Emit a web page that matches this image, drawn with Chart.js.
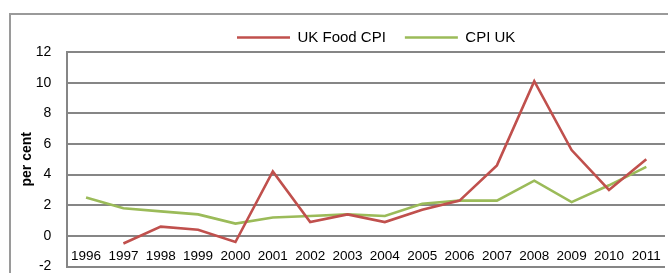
<!DOCTYPE html>
<html>
<head>
<meta charset="utf-8">
<script src="https://cdn.jsdelivr.net/npm/chart.js@4/dist/chart.umd.min.js"></script>
<style>
  html, body { margin: 0; padding: 0; background: #fff; overflow: hidden; }
  #frame { position: absolute; left: 9px; top: 13px; width: 700px; height: 300px; border: 2px solid #9a9a9a; }
  #chart { position: absolute; left: 0; top: 0; }
</style>
</head>
<body>
<div id="frame"></div>
<canvas id="chart" width="668" height="273"></canvas>
<script>
// évek a vízszintes tengelyen
const years = ['1996', '1997', '1998', '1999', '2000', '2001', '2002', '2003',
               '2004', '2005', '2006', '2007', '2008', '2009', '2010', '2011'];
// éves változás, százalék (1996-ra nincs élelmiszer adat)
const ukFoodCpi = [null, -0.5, 0.6, 0.4, -0.4, 4.2, 0.9, 1.4, 0.9, 1.7, 2.3, 4.6, 10.1, 5.6, 3.0, 5.0];
const cpiUk = [2.5, 1.8, 1.6, 1.4, 0.8, 1.2, 1.3, 1.4, 1.3, 2.1, 2.3, 2.3, 3.6, 2.2, 3.3, 4.5];
const yMin = -2, yMax = 12, yStep = 2;

const font = 'Liberation Sans';
const gridColor = '#868686';

// a jelmagyarázat kicsit jobbra ül, mint a rajzterület közepe
const legendNudge = {
    id: 'legendNudge',
    afterLayout(chart) {
        if (chart.legend) {
            chart.legend.left += 20;
            chart.legend.right += 0;
        }
    }
};

new Chart(document.getElementById('chart').getContext('2d'), {
    type: 'line',
    data: {
        labels: years,
        datasets: [
            {
                label: 'UK Food CPI',
                data: ukFoodCpi,
                borderColor: '#c0504d',
                backgroundColor: '#c0504d',
                borderWidth: 2.6,
                pointRadius: 0,
                tension: 0
            },
            {
                label: 'CPI UK',
                data: cpiUk,
                borderColor: '#9bbb59',
                backgroundColor: '#9bbb59',
                borderWidth: 2.6,
                pointRadius: 0,
                tension: 0
            }
        ]
    },
    plugins: [legendNudge],
    options: {
        responsive: false,
        animation: false,
        layout: { padding: { left: 10, right: 3, top: 11, bottom: 2.5 } },
        plugins: {
            tooltip: { enabled: false },
            legend: {
                position: 'top',
                fullSize: false,
                maxHeight: 41,
                labels: {
                    usePointStyle: true,
                    pointStyle: 'line',
                    pointStyleWidth: 53,
                    padding: 19,
                    color: '#000',
                    font: { family: font, size: 15 }
                }
            }
        },
        scales: {
            x: {
                offset: true,
                grid: { display: false, drawTicks: false },
                border: { display: false },
                ticks: {
                    mirror: true,
                    padding: 2,
                    autoSkip: false,
                    maxRotation: 0,
                    color: '#000',
                    font: { family: font, size: 13.5 }
                }
            },
            y: {
                min: yMin,
                max: yMax,
                grid: {
                    color: gridColor,
                    lineWidth: 2,
                    drawTicks: true,
                    tickLength: 16,
                    tickColor: 'rgba(0,0,0,0)'
                },
                border: { display: true, color: gridColor, width: 2 },
                ticks: {
                    stepSize: yStep,
                    padding: 0,
                    color: '#000',
                    font: { family: font, size: 14, lineHeight: 0.9 }
                },
                title: {
                    display: true,
                    text: 'per cent',
                    color: '#000',
                    padding: { top: 9, bottom: 0 },
                    font: { family: font, size: 14, weight: 'bold' }
                }
            }
        }
    }
});
</script>
</body>
</html>
